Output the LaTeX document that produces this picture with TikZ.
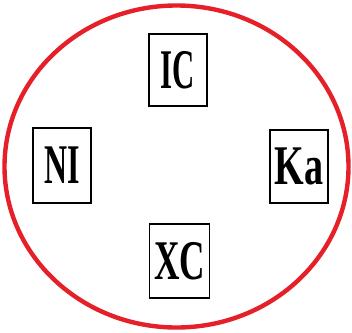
\documentclass[tikz,border=0pt]{standalone}
\usepackage{fontspec}
\setmainfont{Liberation Serif}
\usetikzlibrary{positioning}
\definecolor{ringred}{RGB}{229,32,40}
\begin{document}
\begin{tikzpicture}[x=1pt, y=-1pt]
    % Set up styles for the letter boxes
    \tikzstyle{letterbox} = [draw, line width=1.2pt, minimum width=58pt, minimum height=72pt, inner sep=0pt, font=\fontsize{56}{56}\selectfont\bfseries]
    \tikzstyle{ring} = [draw=ringred, line width=4.4pt]

    \useasboundingbox (0,0) rectangle (352,332);

    % Draw the red ring
    \draw[ring] (176.5,166.5) ellipse (172pt and 161pt);

    % Place the four boxes
    \node[letterbox] (ic) at (178,70) {\scalebox{0.55}[1]{IC}};
    \node[letterbox, minimum height=75pt] (ni) at (62,165.5) {\scalebox{0.57}[1]{NI}};
    \node[letterbox, minimum height=73pt] (ka) at (299,166.5) {\scalebox{0.68}[1]{Ka}};
    \node[letterbox, minimum width=60pt, minimum height=74pt] (xc) at (179.5,261) {\scalebox{0.63}[1]{XC}};

\end{tikzpicture}
\end{document}
